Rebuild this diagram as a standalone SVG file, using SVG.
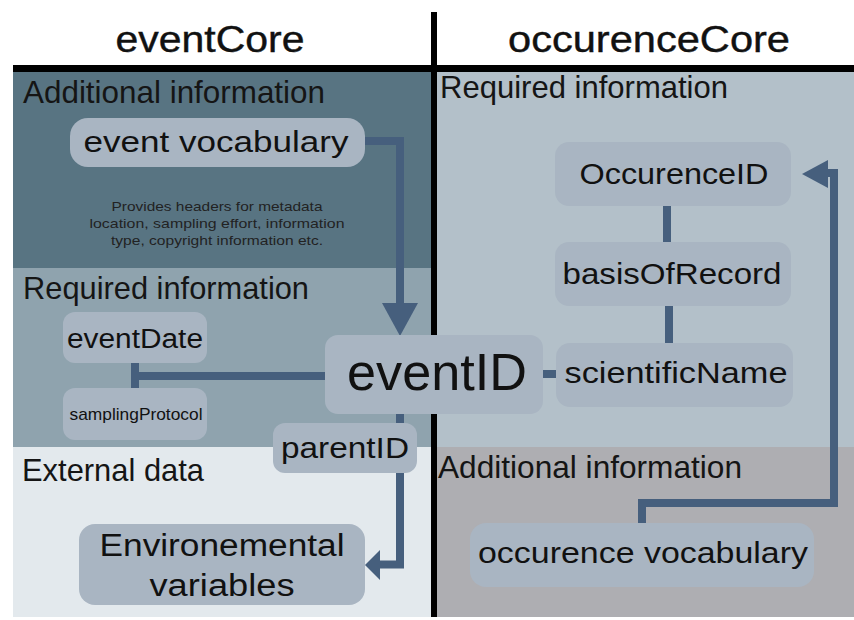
<svg xmlns="http://www.w3.org/2000/svg" width="854" height="620" viewBox="0 0 854 620">
  <style>
    .sec { font-family: "Liberation Sans", Arial, sans-serif; font-size: 32px; fill: #151515; }
    .hdr { font-family: "Liberation Sans", Arial, sans-serif; font-size: 36px; fill: #111; stroke: #111; stroke-width: 0.4; text-anchor: middle; }
    .node rect { fill: #a9b5c2; }
    .lbl { font-family: "Liberation Sans", Arial, sans-serif; fill: #111; text-anchor: middle; }
    .desc { font-family: "Liberation Sans", Arial, sans-serif; font-size: 13.5px; fill: #222; text-anchor: middle; }
    .conn path { fill: none; stroke: #465f7d; stroke-width: 8; stroke-linejoin: miter; stroke-linecap: butt; }
    .conn polygon { fill: #465f7d; }
  </style>
  <rect x="0" y="0" width="854" height="620" fill="#ffffff"/>
  <g id="panels">
    <rect x="13" y="72" width="418" height="196" fill="#587482"/>
    <rect x="13" y="268" width="418" height="179" fill="#8fa3ae"/>
    <rect x="13" y="447" width="418" height="170" fill="#e3e9ed"/>
    <rect x="437" y="72" width="417" height="375" fill="#b3c0c9"/>
    <rect x="437" y="447" width="417" height="170" fill="#aeaeb2"/>
    <rect x="13" y="65" width="841" height="7" fill="#000"/>
    <rect x="431" y="12" width="6" height="605" fill="#000"/>
  </g>
  <g id="headers">
    <text class="hdr" x="210" y="52" textLength="189" lengthAdjust="spacingAndGlyphs">eventCore</text>
    <text class="hdr" x="649" y="52" textLength="282" lengthAdjust="spacingAndGlyphs">occurenceCore</text>
  </g>
  <g id="section-labels">
    <text class="sec" x="23" y="103" textLength="302" lengthAdjust="spacingAndGlyphs">Additional information</text>
    <text class="sec" x="23" y="299" textLength="286" lengthAdjust="spacingAndGlyphs">Required information</text>
    <text class="sec" x="22" y="481" textLength="182" lengthAdjust="spacingAndGlyphs">External data</text>
    <text class="sec" x="440" y="98" textLength="288" lengthAdjust="spacingAndGlyphs">Required information</text>
    <text class="sec" x="438" y="478" textLength="304" lengthAdjust="spacingAndGlyphs">Additional information</text>
  </g>
  <g id="connectors" class="conn">
    <path d="M365,141 H400 V305"/>
    <polygon points="382,303 418,303 400,336"/>
    <path d="M325,376 H135 M135,363 V388"/>
    <path d="M543,374 H557"/>
    <path d="M400,414 V423"/>
    <path d="M400,473 V564.5 H378"/>
    <polygon points="380,550 380,580 365,565"/>
    <path d="M667,206 V242"/>
    <path d="M669,306 V343"/>
    <path d="M642,523 V503 H834 V173 H826"/>
    <polygon points="828,160 828,188 802,174"/>
  </g>
  <g id="event-vocabulary" class="node">
    <rect x="70" y="118" width="295" height="49" rx="18"/>
    <text class="lbl" x="216" y="152" font-size="29" textLength="265" lengthAdjust="spacingAndGlyphs">event vocabulary</text>
  </g>
  <g id="event-vocabulary-note">
    <text class="desc" x="217" y="211" textLength="211" lengthAdjust="spacingAndGlyphs">Provides headers for metadata</text>
    <text class="desc" x="217" y="228" textLength="255" lengthAdjust="spacingAndGlyphs">location, sampling effort, information</text>
    <text class="desc" x="217" y="245" textLength="212" lengthAdjust="spacingAndGlyphs">type, copyright information etc.</text>
  </g>
  <g id="eventDate" class="node">
    <rect x="63" y="312" width="144" height="51" rx="12"/>
    <text class="lbl" x="135" y="348" font-size="27" textLength="136" lengthAdjust="spacingAndGlyphs">eventDate</text>
  </g>
  <g id="samplingProtocol" class="node">
    <rect x="63" y="388" width="144" height="52" rx="12"/>
    <text class="lbl" x="136" y="420" font-size="17" textLength="133" lengthAdjust="spacingAndGlyphs">samplingProtocol</text>
  </g>
  <g id="eventID" class="node">
    <rect x="325" y="335" width="218" height="79" rx="13"/>
    <text class="lbl" x="437" y="390" font-size="52" textLength="180" lengthAdjust="spacingAndGlyphs">eventID</text>
  </g>
  <g id="parentID" class="node">
    <rect x="273" y="423" width="144" height="50" rx="12"/>
    <text class="lbl" x="345" y="458" font-size="29" textLength="128" lengthAdjust="spacingAndGlyphs">parentID</text>
  </g>
  <g id="environmental-variables" class="node">
    <rect x="79" y="524" width="286" height="81" rx="16"/>
    <text class="lbl" x="222" y="556" font-size="31" textLength="245" lengthAdjust="spacingAndGlyphs">Environemental</text>
    <text class="lbl" x="222" y="596" font-size="31" textLength="145" lengthAdjust="spacingAndGlyphs">variables</text>
  </g>
  <g id="OccurenceID" class="node">
    <rect x="555" y="142" width="236" height="64" rx="14"/>
    <text class="lbl" x="674" y="184" font-size="29" textLength="189" lengthAdjust="spacingAndGlyphs">OccurenceID</text>
  </g>
  <g id="basisOfRecord" class="node">
    <rect x="555" y="242" width="236" height="64" rx="14"/>
    <text class="lbl" x="672" y="284" font-size="29" textLength="219" lengthAdjust="spacingAndGlyphs">basisOfRecord</text>
  </g>
  <g id="scientificName" class="node">
    <rect x="556" y="343" width="237" height="64" rx="14"/>
    <text class="lbl" x="676" y="383" font-size="29" textLength="223" lengthAdjust="spacingAndGlyphs">scientificName</text>
  </g>
  <g id="occurence-vocabulary" class="node">
    <rect x="470" y="523" width="344" height="64" rx="16"/>
    <text class="lbl" x="643" y="563" font-size="29" textLength="330" lengthAdjust="spacingAndGlyphs">occurence vocabulary</text>
  </g>
</svg>
